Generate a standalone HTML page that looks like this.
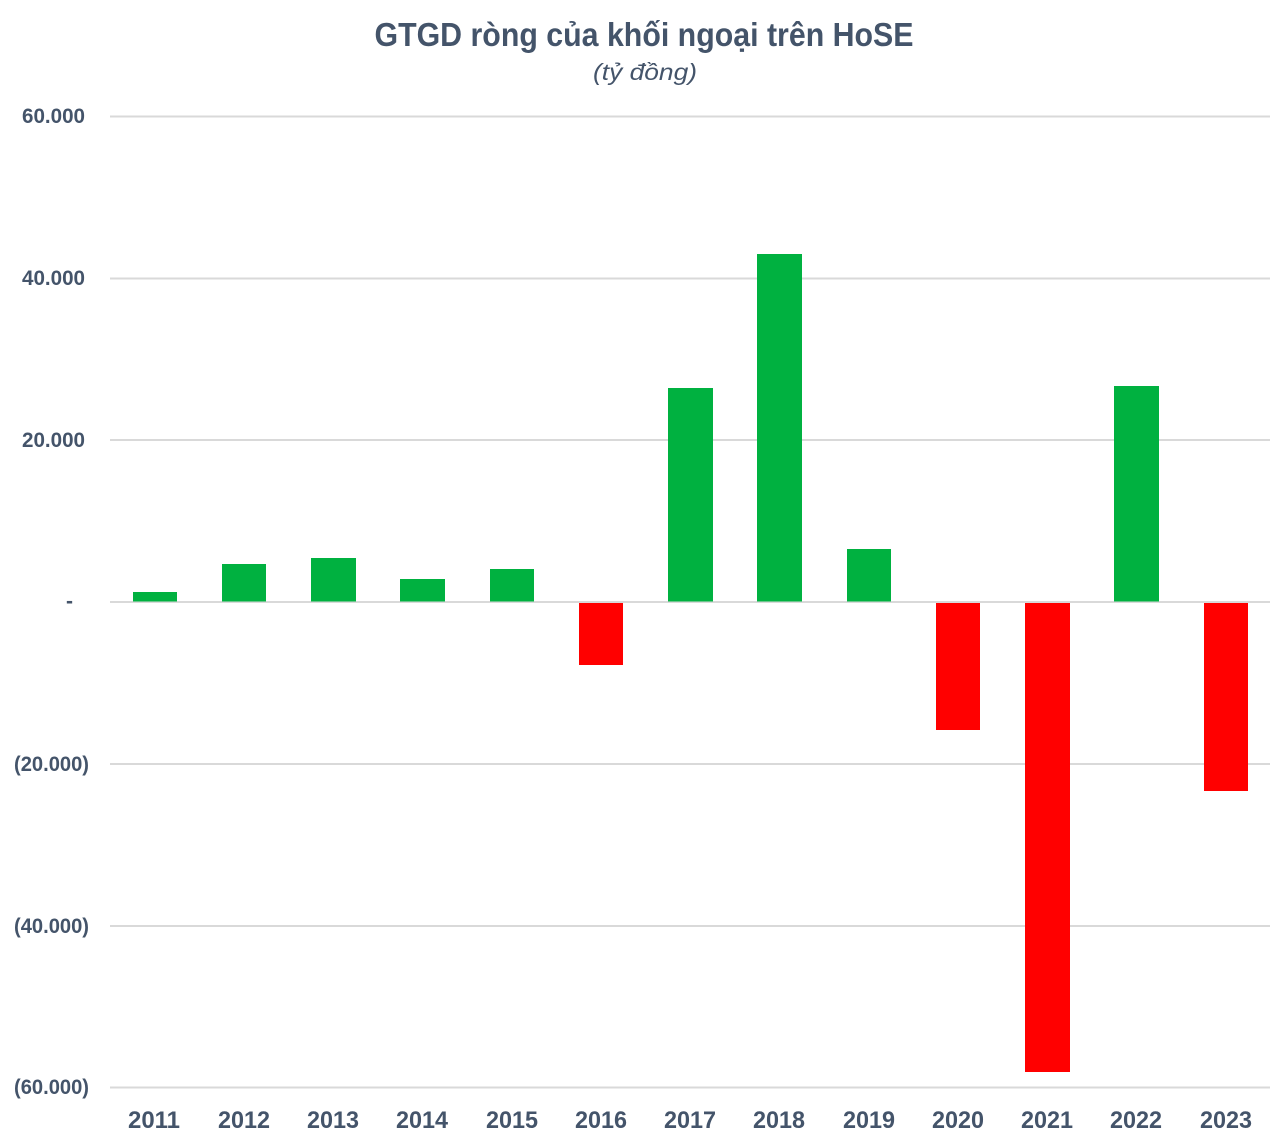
<!DOCTYPE html>
<html>
<head>
<meta charset="utf-8">
<style>
  html,body{margin:0;padding:0;background:#fff;}
  svg{display:block;}
  text{font-family:"Liberation Sans", sans-serif; fill:#44546a; font-weight:bold;}
</style>
</head>
<body>
<svg width="1288" height="1146" viewBox="0 0 1288 1146" xmlns="http://www.w3.org/2000/svg">
  <rect width="1288" height="1146" fill="#fff"/>
  <!-- Title -->
  <text x="644" y="46" font-size="33" text-anchor="middle" textLength="539" lengthAdjust="spacingAndGlyphs">GTGD ròng của khối ngoại trên HoSE</text>
  <text x="645" y="80" font-size="23" font-style="italic" text-anchor="middle" textLength="104" lengthAdjust="spacingAndGlyphs" style="font-weight:normal">(tỷ đồng)</text>

  <!-- Gridlines -->
  <g stroke="#d9d9d9" stroke-width="2">
    <line x1="110" y1="116.5" x2="1270" y2="116.5"/>
    <line x1="110" y1="278.5" x2="1270" y2="278.5"/>
    <line x1="110" y1="440" x2="1270" y2="440"/>
    <line x1="110" y1="602" x2="1270" y2="602"/>
    <line x1="110" y1="764" x2="1270" y2="764"/>
    <line x1="110" y1="926" x2="1270" y2="926"/>
    <line x1="110" y1="1087.5" x2="1270" y2="1087.5"/>
  </g>

  <!-- Y labels -->
  <g font-size="21" text-anchor="end">
    <text x="85" y="123" textLength="63" lengthAdjust="spacingAndGlyphs">60.000</text>
    <text x="85" y="285" textLength="63" lengthAdjust="spacingAndGlyphs">40.000</text>
    <text x="85" y="447" textLength="63" lengthAdjust="spacingAndGlyphs">20.000</text>
    <text x="73" y="608">-</text>
    <text x="89" y="771" textLength="75" lengthAdjust="spacingAndGlyphs">(20.000)</text>
    <text x="89" y="933" textLength="75" lengthAdjust="spacingAndGlyphs">(40.000)</text>
    <text x="89" y="1094" textLength="75" lengthAdjust="spacingAndGlyphs">(60.000)</text>
  </g>

  <!-- Bars -->
  <g fill="#00b140">
    <rect x="133" y="592" width="44" height="9.5"/>
    <rect x="222" y="564" width="44" height="37.5"/>
    <rect x="311" y="558" width="45" height="43.5"/>
    <rect x="400" y="579" width="45" height="22.5"/>
    <rect x="490" y="569" width="44" height="32.5"/>
    <rect x="668" y="388" width="45" height="213.5"/>
    <rect x="757" y="254" width="45" height="347.5"/>
    <rect x="847" y="549" width="44" height="52.5"/>
    <rect x="1114" y="386" width="45" height="215.5"/>
  </g>
  <g fill="#ff0000">
    <rect x="579" y="603" width="44" height="62"/>
    <rect x="936" y="603" width="44" height="127"/>
    <rect x="1025" y="603" width="45" height="469"/>
    <rect x="1204" y="603" width="44" height="188"/>
  </g>

  <!-- X labels -->
  <g font-size="24" text-anchor="middle">
    <text x="154" y="1128" textLength="52" lengthAdjust="spacingAndGlyphs">2011</text>
    <text x="244" y="1128" textLength="52" lengthAdjust="spacingAndGlyphs">2012</text>
    <text x="333" y="1128" textLength="52" lengthAdjust="spacingAndGlyphs">2013</text>
    <text x="422" y="1128" textLength="52" lengthAdjust="spacingAndGlyphs">2014</text>
    <text x="512" y="1128" textLength="52" lengthAdjust="spacingAndGlyphs">2015</text>
    <text x="601" y="1128" textLength="52" lengthAdjust="spacingAndGlyphs">2016</text>
    <text x="690" y="1128" textLength="52" lengthAdjust="spacingAndGlyphs">2017</text>
    <text x="779" y="1128" textLength="52" lengthAdjust="spacingAndGlyphs">2018</text>
    <text x="869" y="1128" textLength="52" lengthAdjust="spacingAndGlyphs">2019</text>
    <text x="958" y="1128" textLength="52" lengthAdjust="spacingAndGlyphs">2020</text>
    <text x="1047" y="1128" textLength="52" lengthAdjust="spacingAndGlyphs">2021</text>
    <text x="1136" y="1128" textLength="52" lengthAdjust="spacingAndGlyphs">2022</text>
    <text x="1226" y="1128" textLength="52" lengthAdjust="spacingAndGlyphs">2023</text>
  </g>
</svg>
</body>
</html>
